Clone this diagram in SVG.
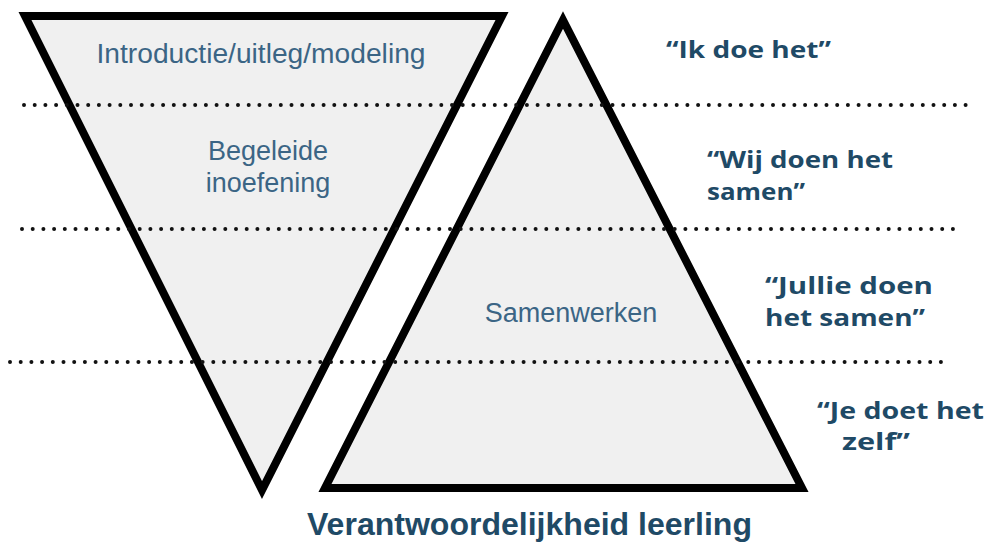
<svg xmlns="http://www.w3.org/2000/svg" width="988" height="544" viewBox="0 0 988 544">
<style>
.tri{fill:#f0f0f0;stroke:#000;stroke-width:8;stroke-linejoin:miter}
.dots{stroke:#111;stroke-width:4;stroke-linecap:round;stroke-dasharray:0 10.7;fill:none}
.lbl{font-family:"Liberation Sans",Arial,sans-serif;font-size:27px;fill:#3b6585;text-anchor:middle}
.say{font-family:"Open Sans","DejaVu Sans",sans-serif;font-weight:bold;font-size:23px;fill:#1f4a66}
.foot{font-family:"Liberation Sans",Arial,sans-serif;font-weight:bold;font-size:31px;fill:#1f4a66}
</style>
<rect width="988" height="544" fill="#fff"/>
<g id="tri-down"><polygon class="tri" points="25,16 502,16 262,490"/></g>
<g id="tri-up"><polygon class="tri" points="563,20 802,488 325,488"/></g>
<g id="connectors">
<line class="dots" x1="24" y1="105" x2="968" y2="105"/>
<line class="dots" x1="22" y1="229" x2="960" y2="229"/>
<line class="dots" x1="10" y1="362" x2="950" y2="362"/>
</g>
<g id="labels">
<text class="lbl" x="261" y="63" font-size="28" textLength="329" lengthAdjust="spacingAndGlyphs">Introductie/uitleg/modeling</text>
<text class="lbl" x="268" y="160">Begeleide</text>
<text class="lbl" x="268" y="192">inoefening</text>
<text class="lbl" x="571" y="322">Samenwerken</text>
</g>
<g id="sayings">
<text class="say" x="666" y="58" textLength="165" lengthAdjust="spacingAndGlyphs">“Ik doe het”</text>
<text class="say" x="707" y="168" textLength="186" lengthAdjust="spacingAndGlyphs">“Wij  doen het</text>
<text class="say" x="707" y="200" textLength="98" lengthAdjust="spacingAndGlyphs">samen”</text>
<text class="say" x="765" y="294" textLength="168" lengthAdjust="spacingAndGlyphs">“Jullie doen</text>
<text class="say" x="765" y="326" textLength="160" lengthAdjust="spacingAndGlyphs">het samen”</text>
<text class="say" x="817" y="419" textLength="167" lengthAdjust="spacingAndGlyphs">“Je doet het</text>
<text class="say" x="842" y="450" textLength="68" lengthAdjust="spacingAndGlyphs">zelf”</text>
</g>
<g id="footer">
<text class="foot" x="307" y="535" textLength="445" lengthAdjust="spacingAndGlyphs">Verantwoordelijkheid  leerling</text>
</g>
</svg>
